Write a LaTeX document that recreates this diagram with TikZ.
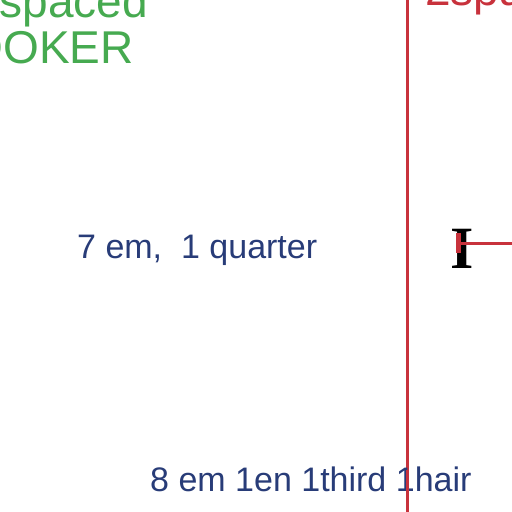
\documentclass[tikz,border=0pt]{standalone}
\usepackage{fontspec}
\setmainfont{Liberation Sans}
\newfontfamily\serifI{Liberation Serif}
\definecolor{gr}{RGB}{70,170,80}
\definecolor{rd}{RGB}{200,50,60}
\definecolor{bl}{RGB}{40,60,120}
\begin{document}
\begin{tikzpicture}[x=1pt,y=-1pt,
  greentxt/.style={text=gr,font=\fontsize{46}{46}\selectfont,inner sep=0pt,anchor=base east},
  bluetxt/.style={text=bl,inner sep=0pt,anchor=base west},
  redline/.style={draw=rd,line width=3pt}]
\useasboundingbox (0,0) rectangle (512,512);
\clip (0,0) rectangle (512,512);
\fill[white] (0,0) rectangle (512,512);
\node[greentxt] (sp) at (148,17) {spaced};
\node[greentxt] (bk) at (134,63) {BOOKER};
\node[text=rd,font=\fontsize{46}{46}\selectfont,inner sep=0pt,anchor=base west] (r2) at (425,5) {2spaced};
\draw[redline] (407,0) coordinate (vt) -- (407,512) coordinate (vb);
\node[bluetxt,font=\fontsize{34}{34}\selectfont] (q) at (77,258) {7 em,\ \ 1 quarter};
\node[bluetxt,font=\fontsize{34}{34}\selectfont] (h) at (150,491) {8 em 1en 1third 1hair};
\draw[redline] (407,470) -- (407,512);
\node[inner sep=0pt,font=\serifI\fontsize{60}{60}\selectfont,anchor=base] (I) at (462.5,268) {\textbf{I}};
\coordinate (re) at (512,243);
\draw[redline] (458,243) -- (re);
\fill[rd] (456,233) rectangle (461,253);
\end{tikzpicture}
\end{document}
